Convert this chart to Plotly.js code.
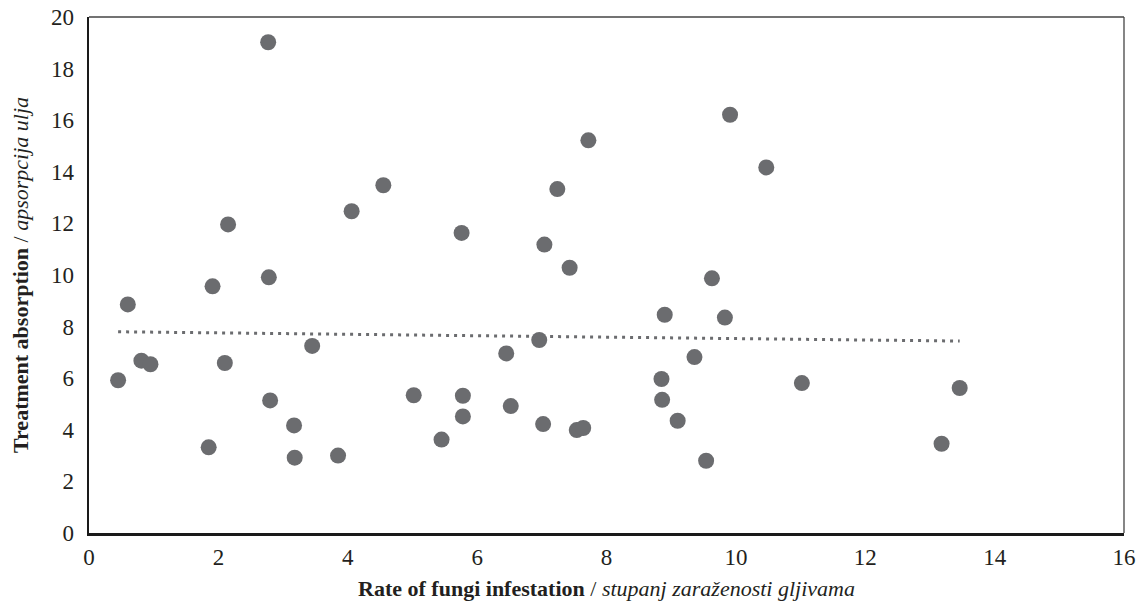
<!DOCTYPE html>
<html>
<head>
<meta charset="utf-8">
<script src="https://cdn.plot.ly/plotly-3.0.1.min.js"></script>
<style>
html,body{margin:0;padding:0;background:#fff;}
#chart{width:1137px;height:601px;}
#chart text{font-family:'Liberation Serif', serif !important;}
</style>
</head>
<body>
<div id="chart"></div>
<script>
// Rate of fungi infestation (x) vs treatment absorption (y)
var infestation = [0.45, 0.60, 0.81, 0.95, 1.85, 1.91, 2.10, 2.15, 2.77, 2.78, 2.80, 3.17, 3.18, 3.45, 3.85,
                   4.06, 4.55, 5.02, 5.45, 5.76, 5.78, 5.78, 6.45, 6.52, 6.96, 7.02, 7.04, 7.24, 7.43, 7.54,
                   7.64, 7.72, 8.85, 8.86, 8.90, 9.10, 9.36, 9.54, 9.63, 9.83, 9.91, 10.47, 11.02, 13.18, 13.46];
var absorption  = [5.92, 8.86, 6.68, 6.54, 3.32, 9.56, 6.59, 11.96, 19.02, 9.91, 5.14, 4.17, 2.92, 7.25, 3.00,
                   12.47, 13.48, 5.34, 3.62, 11.63, 5.32, 4.52, 6.96, 4.92, 7.48, 4.22, 11.18, 13.33, 10.28, 3.99,
                   4.07, 15.22, 5.97, 5.16, 8.46, 4.35, 6.82, 2.80, 9.87, 8.35, 16.21, 14.17, 5.81, 3.46, 5.62];
// Linear trend line end points
var trendX = [0.45, 13.46];
var trendY = [7.80, 7.44];

var xTicks = [0, 2, 4, 6, 8, 10, 12, 14, 16];
var yTicks = [0, 2, 4, 6, 8, 10, 12, 14, 16, 18, 20];

var fontFamily = 'Liberation Serif';
var textColor = '#231f20';

function draw() {
  var traces = [
    {
      x: infestation, y: absorption, type: 'scatter', mode: 'markers',
      marker: {color: '#6b6c6f', size: 16, line: {width: 0}},
      showlegend: false
    },
    {
      x: trendX, y: trendY, type: 'scatter', mode: 'lines',
      line: {color: '#6b6c6f', width: 3, dash: '3px,5px'},
      showlegend: false
    }
  ];

  var layout = {
    width: 1137, height: 601,
    margin: {l: 89, r: 13, t: 17, b: 68},
    paper_bgcolor: '#ffffff', plot_bgcolor: '#ffffff',
    font: {family: fontFamily, color: textColor, size: 22},
    xaxis: {
      range: [0, 16], tickvals: xTicks, ticktext: xTicks.map(String),
      showgrid: false, zeroline: false, showline: true, linecolor: '#1a1a1a', linewidth: 2.5,
      ticks: '', ticklabelstandoff: 2,
      tickfont: {family: fontFamily, size: 23},
      title: {text: '<b>Rate of fungi infestation</b> / <i>stupanj zaraženosti gljivama</i>',
              font: {family: fontFamily, size: 22}, standoff: 13}
    },
    yaxis: {
      range: [0, 20], tickvals: yTicks, ticktext: yTicks.map(String),
      showgrid: false, zeroline: false, showline: true, linecolor: '#1a1a1a', linewidth: 2.5,
      ticks: '', ticklabelstandoff: 8,
      tickfont: {family: fontFamily, size: 23},
      title: {text: '<b>Treatment absorption</b> / <i>apsorpcija ulja</i>',
              font: {family: fontFamily, size: 22}, standoff: 16}
    },
    shapes: [
      {type: 'line', xref: 'paper', yref: 'paper', x0: 0, x1: 1, y0: 1, y1: 1, line: {color: '#444444', width: 1.3}},
      {type: 'line', xref: 'paper', yref: 'paper', x0: 1, x1: 1, y0: 0, y1: 1, line: {color: '#444444', width: 1.3}}
    ]
  };

  Plotly.newPlot('chart', traces, layout, {staticPlot: true});
}

var drawn = false;
function drawOnce() { if (!drawn) { drawn = true; draw(); } }
if (document.fonts && document.fonts.load) {
  Promise.all([
    document.fonts.load('22px "Liberation Serif"'),
    document.fonts.load('bold 22px "Liberation Serif"'),
    document.fonts.load('italic 22px "Liberation Serif"')
  ]).then(drawOnce, drawOnce);
  setTimeout(drawOnce, 1500);
} else {
  drawOnce();
}
</script>
</body>
</html>
